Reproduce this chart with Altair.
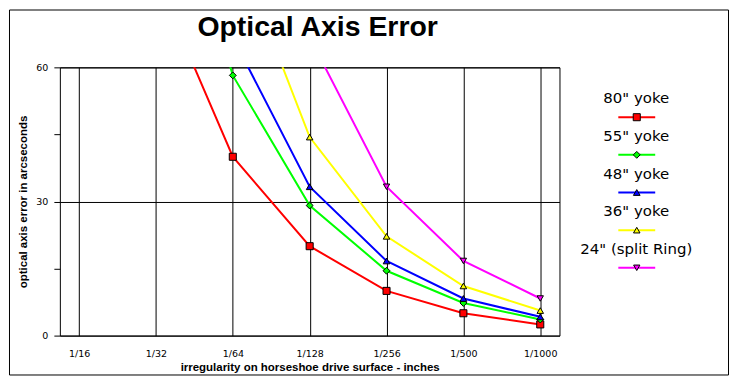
import altair as alt
import pandas as pd

categories = ["1/16", "1/32", "1/64", "1/128", "1/256", "1/500", "1/1000"]
series_names = ['80" yoke', '55" yoke', '48" yoke', '36" yoke', '24" (split Ring)']
yoke_80 = [160, 80, 40, 20, 10, 5, 2.5]
yoke_55 = [232.7, 116.4, 58.2, 29.1, 14.5, 7.3, 3.6]
yoke_48 = [266.7, 133.3, 66.7, 33.3, 16.7, 8.3, 4.2]
yoke_36 = [355.6, 177.8, 88.9, 44.4, 22.2, 11.1, 5.6]
ring_24 = [533.3, 266.7, 133.3, 66.7, 33.3, 16.7, 8.3]
colors = ["#ff0000", "#00ff00", "#0000ff", "#ffff00", "#ff00ff"]
shapes = ["square", "diamond", "triangle-up", "triangle-up", "triangle-down"]
marker_sizes = [50, 40, 40, 40, 40]
y_ticks = [0, 15, 30, 45, 60]

all_series = [yoke_80, yoke_55, yoke_48, yoke_36, ring_24]
rows = []
for name, vals in zip(series_names, all_series):
    for i, (c, v) in enumerate(zip(categories, vals)):
        rows.append({"series": name, "category": c, "value": v, "order": i})
df = pd.DataFrame(rows)
ldf = pd.DataFrame({"series": series_names})

color_scale = alt.Scale(domain=series_names, range=colors)
shape_scale = alt.Scale(domain=series_names, range=shapes)
size_scale = alt.Scale(domain=series_names, range=marker_sizes)

x_enc = alt.X(
    "category:O",
    sort=categories,
    scale=alt.Scale(type="point", padding=0.25),
    axis=alt.Axis(
        title="irregularity on horseshoe drive surface - inches",
        labelAngle=0, ticks=False, tickSize=0, labelPadding=13, domain=False,
        grid=True, titlePadding=3,
    ),
)
y_enc = alt.Y(
    "value:Q",
    scale=alt.Scale(domain=[0, 60], nice=False),
    axis=alt.Axis(
        title="optical axis error in arcseconds",
        values=y_ticks, domain=False, tickSize=6, labelPadding=6, titlePadding=7,
        labelExpr="datum.value % 30 === 0 ? datum.label : ''",
        gridColor={"condition": {"test": "datum.value % 30 === 0", "value": "black"}, "value": "transparent"},
    ),
)

base = alt.Chart(df).encode(x=x_enc, y=y_enc, order="order:Q")
lines = base.mark_line(clip=True, strokeWidth=2).encode(
    color=alt.Color("series:N", scale=color_scale, legend=None)
)
points = base.mark_point(clip=True, filled=True, stroke="black", strokeWidth=1, opacity=1).encode(
    fill=alt.Fill("series:N", scale=color_scale, legend=None),
    shape=alt.Shape("series:N", scale=shape_scale, legend=None),
    size=alt.Size("series:N", scale=size_scale, legend=None),
)

main = alt.layer(lines, points).properties(
    width=501, height=269,
    view=alt.ViewBackground(stroke="black", strokeWidth=1),
    title=alt.TitleParams(
        "Optical Axis Error", font="Liberation Sans", fontSize=28.5, fontWeight="bold",
        color="black", anchor="middle", dx=8, offset=21,
    ),
)

ly = alt.Y("series:N", sort=series_names, scale=alt.Scale(type="point", range=[50, 201], padding=0), axis=None)
lbase = alt.Chart(ldf)
leg_rule = lbase.mark_rule(strokeWidth=2).encode(
    x=alt.value(39), x2=alt.value(76), y=ly,
    color=alt.Color("series:N", scale=color_scale, legend=None),
)
leg_pt = lbase.mark_point(filled=True, stroke="black", strokeWidth=1, opacity=1).encode(
    x=alt.value(57.5), y=ly,
    fill=alt.Fill("series:N", scale=color_scale, legend=None),
    shape=alt.Shape("series:N", scale=shape_scale, legend=None),
    size=alt.Size("series:N", scale=size_scale, legend=None),
)
leg_text = lbase.mark_text(font="DejaVu Sans", fontSize=15, baseline="alphabetic", align="center", dy=-14, color="black").encode(
    x=alt.value(57), y=ly, text="series:N"
)
frame = alt.Chart(pd.DataFrame({"f": [0]})).mark_rect(filled=False, stroke="black", strokeWidth=1).encode(
    x=alt.value(-571.5), x2=alt.value(149.5), y=alt.value(-57.5), y2=alt.value(308.5)
)
legend = alt.layer(frame, leg_rule, leg_pt, leg_text).properties(width=114, height=269)

chart = alt.hconcat(main, legend, spacing=20, bounds="flush", padding=0).configure_view(
    stroke="transparent"
).configure_axis(
    labelFont="DejaVu Sans", labelFontSize=9.5, labelColor="black",
    titleFont="Liberation Sans", titleFontSize=11.5, titleFontWeight="bold", titleColor="black",
    tickColor="black", gridColor="black", gridWidth=1, gridOpacity=1,
)

chart.save("out.html", embed_options={"renderer": "svg", "actions": False})
